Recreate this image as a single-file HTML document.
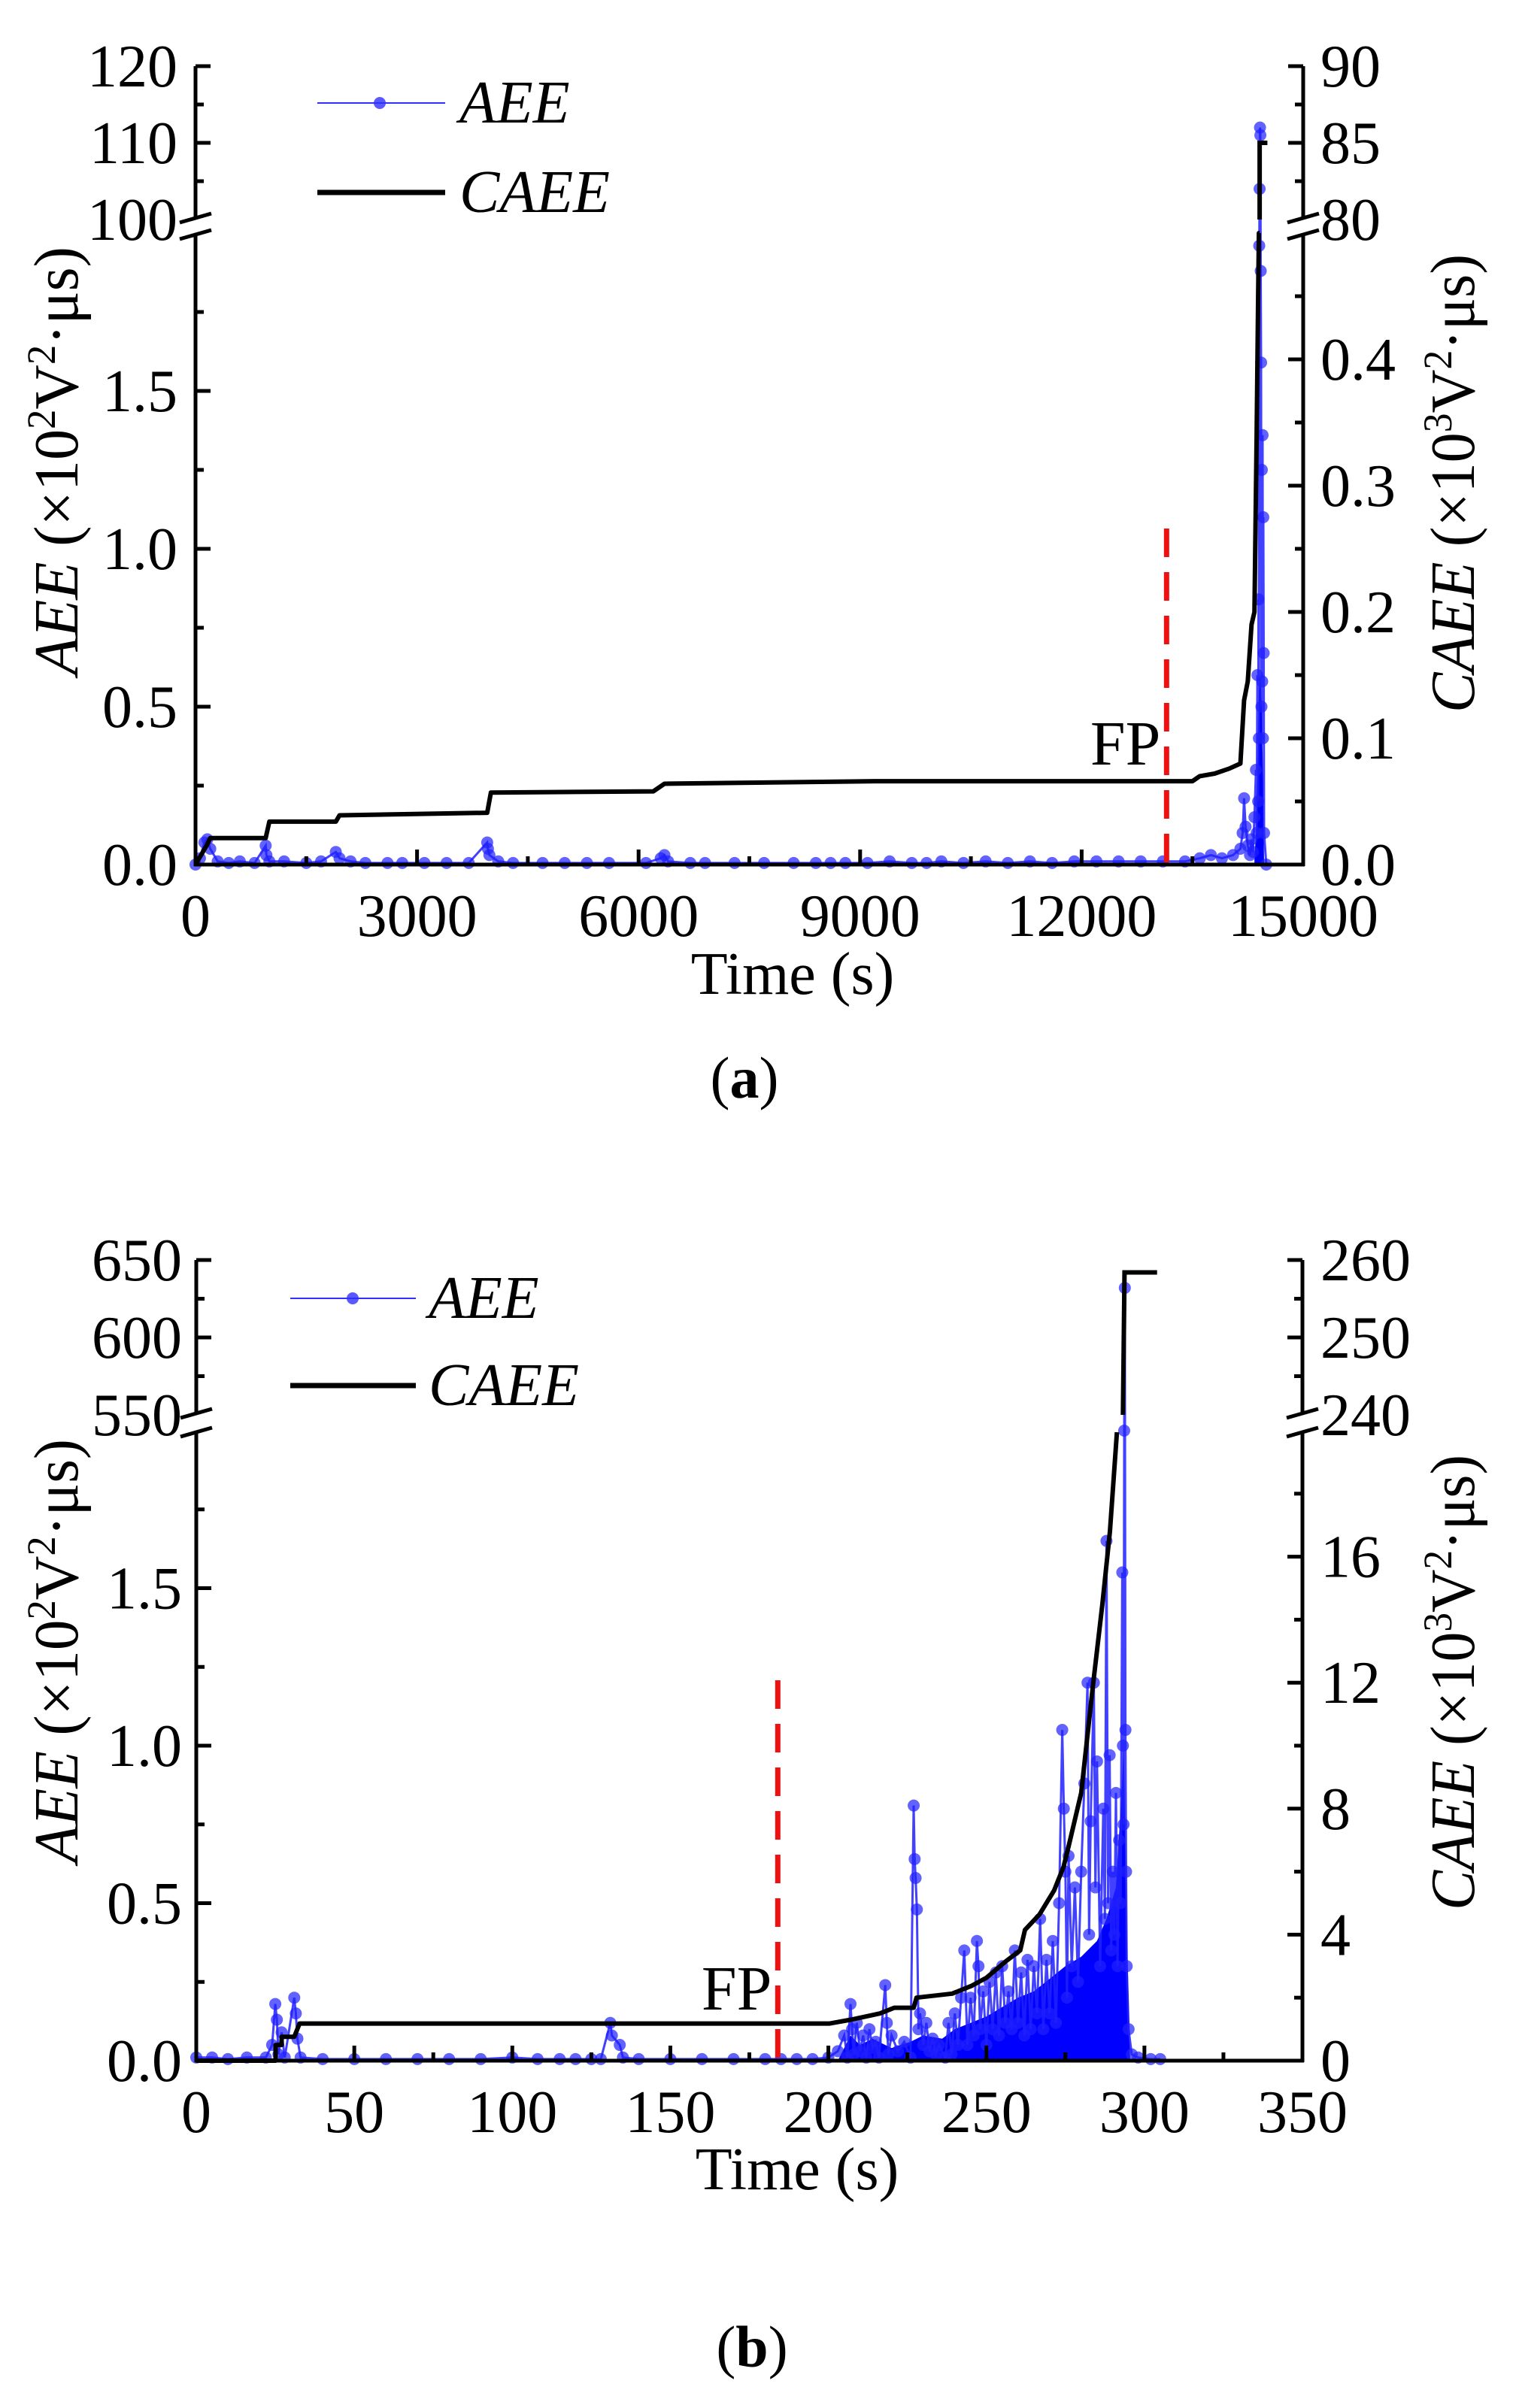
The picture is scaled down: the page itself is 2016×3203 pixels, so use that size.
<!DOCTYPE html>
<html><head><meta charset="utf-8"><style>
html,body{margin:0;padding:0;background:#fff}
svg{display:block}
text{font-family:"Liberation Serif",serif;fill:#000}
</style></head><body>
<svg id="fig" xmlns="http://www.w3.org/2000/svg" width="2016" height="3203" viewBox="0 0 2016 3203">
<rect width="2016" height="3203" fill="#fff"/>
<g id="chartA"></g>
<g id="chartB"></g>
<text x="990" y="1460" font-size="78" text-anchor="middle">(<tspan font-weight="bold">a</tspan>)</text>
<text x="1000" y="3148" font-size="78" text-anchor="middle">(<tspan font-weight="bold">b</tspan>)</text>
</svg>
<script>
// ---------- Chart (a) data ----------
const aTimes = [0,60,120,160,200,300,450,600,800,950,960,1000,1200,1500,1700,1900,1950,2100,2300,2600,2800,3100,3400,3700,3950,3960,3980,4100,4300,4700,5000,5300,5600,6100,6300,6350,6400,6700,6900,7300,7700,8100,8400,8600,8800,9100,9400,9700,9900,10100,10400,10700,11000,11300,11600,11900,12200,12500,12800,13100,13400,13600,13750,13900,14050,14150,14180,14200,14220,14250,14280,14300,14320,14340,14360,14370,14380,14390,14395,14400,14405,14410,14415,14420,14425,14430,14435,14440,14445,14450,14455,14460,14465,14470,14500];
const aAEE = [0,0.02,0.07,0.08,0.05,0.01,0.005,0.01,0.005,0.06,0.03,0.01,0.01,0.005,0.01,0.04,0.02,0.01,0.005,0.005,0.005,0.005,0.005,0.005,0.07,0.05,0.03,0.01,0.005,0.005,0.005,0.005,0.005,0.005,0.02,0.03,0.01,0.005,0.005,0.005,0.005,0.005,0.005,0.005,0.005,0.005,0.01,0.005,0.005,0.01,0.005,0.01,0.005,0.01,0.005,0.01,0.01,0.01,0.01,0.01,0.01,0.02,0.03,0.02,0.03,0.05,0.1,0.21,0.12,0.06,0.03,0.08,0.04,0.15,0.3,0.1,0.6,0.2,0.84,0.4,1.96,104,112,111,1.88,1.59,0.5,1.25,0.58,1.36,0.4,1.1,0.67,0.1,0];
const aDenseT = [14340,14360,14380,14400,14420,14440,14460,14470];
const aDenseV = [0.02,0.1,0.3,0.55,0.6,0.5,0.2,0];
const aCTimes = [0,150,200,950,1000,1900,1950,3950,4000,6200,6350,9200,13500,13600,13800,14000,14150,14200,14250,14300,14340,14370,14390,14400,14410];
const aCAEE = [0,0.015,0.021,0.021,0.034,0.034,0.039,0.041,0.057,0.058,0.064,0.066,0.066,0.07,0.072,0.076,0.08,0.13,0.145,0.19,0.2,0.34,0.45,0.5,0.5];
const aCUpT = [14410,14410,14515];
const aCUpV = [80,85,85];
const aXTicks = [0,3000,6000,9000,12000,15000];
const aXLabels = ["0","3000","6000","9000","12000","15000"];
const aLTicks = [0,0.5,1.0,1.5];
const aLLabels = ["0.0","0.5","1.0","1.5"];
const aLUpTicks = [100,110,120];
const aLUpLabels = ["100","110","120"];
const aRTicks = [0,0.1,0.2,0.3,0.4];
const aRLabels = ["0.0","0.1","0.2","0.3","0.4"];
const aRUpTicks = [80,85,90];
const aRUpLabels = ["80","85","90"];

// ---------- Chart (b) data ----------
const bTimes = [0,5,10,16,22,24,25,25.5,26,27,28,31,31.5,32,33,40,50,60,70,80,90,100,108,115,120,125,128,131,131.5,134,135,140,150,160,170,180,185,190,195,200,203,205,206,207,207.5,208,209,210,211,212,213,214,215,216,218,218.5,219,220,222,224,226,227,227.3,227.6,228,228.5,229,230,231,232,233,234,235,237,238,239,240,241,242,243,244,245,246,247,247.5,248,249,250,251,252,253,254,255,256,257,258,259,260,261,262,263,264,265,266,267,268,269,270,271,272,273,274,274.5,275,275.5,276,277,278,279,280,281,282,282.5,283,284,284.5,285,286,287,287.5,288,288.5,289,289.5,290,290.5,291,291.5,292,292.5,293,293.2,293.4,293.6,293.8,294,294.2,294.4,295,296,298,302,305];
const bAEE = [0.01,0.01,0.005,0.01,0.01,0.05,0.18,0.13,0.02,0.09,0.01,0.2,0.15,0.07,0.01,0.005,0.005,0.005,0.005,0.005,0.005,0.01,0.005,0.005,0.005,0.005,0.005,0.12,0.08,0.05,0.01,0.005,0.005,0.005,0.005,0.005,0.005,0.005,0.005,0.01,0.03,0.08,0.01,0.18,0.1,0.02,0.12,0.03,0.08,0.01,0.1,0.04,0.06,0.01,0.24,0.12,0.02,0.08,0.03,0.06,0.01,0.81,0.64,0.58,0.48,0.1,0.15,0.05,0.12,0.03,0.07,0.02,0.05,0.01,0.12,0.02,0.15,0.05,0.2,0.35,0.05,0.2,0.08,0.38,0.3,0.1,0.22,0.05,0.25,0.1,0.28,0.08,0.3,0.12,0.22,0.1,0.35,0.12,0.28,0.08,0.32,0.1,0.3,0.15,0.45,0.1,0.32,0.15,0.38,0.12,0.5,1.05,0.8,0.6,0.2,0.65,0.3,0.55,0.25,0.6,0.88,1.2,0.4,0.76,1.2,0.55,0.95,0.3,0.8,0.45,1.65,0.5,0.97,0.35,0.6,0.4,0.85,0.3,0.7,0.5,1.55,1.0,0.75,2.0,632,1.05,0.6,0.3,0.1,0.02,0.01,0.005,0.005];
const bDenseT = [203,207,210,214,220,226,230,236,240,245,250,255,260,265,270,275,280,285,288,291,292.5,293.5,294.5,295.5];
const bDenseV = [0,0.08,0.05,0.07,0.04,0.06,0.08,0.07,0.1,0.12,0.14,0.17,0.2,0.22,0.26,0.3,0.33,0.38,0.45,0.55,0.8,1.0,0.4,0];
const bCTimes = [0,25.1,25.1,27,27,31,32.7,200.4,207.1,216.3,220.9,227,227.9,239.2,245.4,250,256,260.7,262.2,266.8,271.4,274.4,276,280,283.6,286.7,289.1,291.3];
const bCAEE = [0,0,0.5,0.5,0.76,0.76,1.18,1.18,1.3,1.5,1.68,1.68,2.0,2.13,2.38,2.63,3.14,3.5,4.15,4.64,5.4,6.15,6.8,8.5,11.8,14.5,16.8,19.95];
const bCUpT = [293.2,293.7,304];
const bCUpV = [240,258.4,258.4];
const bXTicks = [0,50,100,150,200,250,300,350];
const bXLabels = ["0","50","100","150","200","250","300","350"];
const bLTicks = [0,0.5,1.0,1.5];
const bLLabels = ["0.0","0.5","1.0","1.5"];
const bLUpTicks = [550,600,650];
const bLUpLabels = ["550","600","650"];
const bRTicks = [0,4,8,12,16];
const bRLabels = ["0","4","8","12","16"];
const bRUpTicks = [240,250,260];
const bRUpLabels = ["240","250","260"];

const NS = "http://www.w3.org/2000/svg";
function mk(parent, tag, attrs){
  const e = document.createElementNS(NS, tag);
  for (const k in attrs) e.setAttribute(k, attrs[k]);
  parent.appendChild(e);
  return e;
}

function drawChart(g, c, d){
  const xs = t => c.x0 + (t - c.xMin)/(c.xMax - c.xMin)*(c.x1 - c.x0);
  const yL = v => v <= c.lMax ? c.y0 - v/c.lMax*(c.y0 - c.yLTop)
                              : c.yUpBot - (v - c.luMin)/(c.luMax - c.luMin)*(c.yUpBot - c.yUpTop);
  const yRlo = v => c.y0 - v/c.rMax*(c.y0 - c.yLTop);
  const yRup = v => c.yUpBot - (v - c.ruMin)/(c.ruMax - c.ruMin)*(c.yUpBot - c.yUpTop);

  // dense AEE mass
  let dp = xs(d.dt[0]).toFixed(1)+","+c.y0+" "+d.dt.map((t,i)=>xs(t).toFixed(1)+","+yL(d.dv[i]).toFixed(1)).join(" ")+" "+xs(d.dt[d.dt.length-1]).toFixed(1)+","+c.y0;
  const dense = mk(g,"polygon",{points:dp,fill:"#0000ff"});
  
  

  // AEE line + points
  let pts = d.t.map((t,i)=> xs(t).toFixed(1)+","+yL(d.v[i]).toFixed(1)).join(" ");
  const aeeLine = mk(g,"polyline",{points:pts,fill:"none",stroke:"#2020ff","stroke-width":3,"stroke-opacity":0.85});
  
  
  d.t.forEach((t,i)=>{
    const p = mk(g,"circle",{cx:xs(t),cy:yL(d.v[i]),r:8,fill:"#2020ff","fill-opacity":0.7});
    
    
  });

  // CAEE lower + upper
  const cl = mk(g,"polyline",{points:d.ct.map((t,i)=>xs(t).toFixed(1)+","+yRlo(d.cv[i]).toFixed(1)).join(" "),fill:"none",stroke:"#000","stroke-width":6,"stroke-linejoin":"round"});
  
  
  const cu = mk(g,"polyline",{points:d.cut.map((t,i)=>xs(t).toFixed(1)+","+yRup(d.cuv[i]).toFixed(1)).join(" "),fill:"none",stroke:"#000","stroke-width":6});
  
  

  // FP marker
  const fp = mk(g,"line",{x1:xs(c.fpT),x2:xs(c.fpT),y1:c.fpTop,y2:c.y0,stroke:"#ee1111","stroke-width":7,"stroke-dasharray":"38,20"});
  
  
  const fpt = mk(g,"text",{x:xs(c.fpT)-8,y:c.fpTextY,"font-size":84,"text-anchor":"end"});
  fpt.textContent = "FP";
  
  

  // axes
  const ax = mk(g,"g",{stroke:"#000","stroke-width":5,fill:"none"});
  
  
  mk(ax,"line",{x1:c.x0-2,x2:c.x1+2,y1:c.y0,y2:c.y0});
  [c.x0,c.x1].forEach(x=>{
    mk(ax,"line",{x1:x,x2:x,y1:c.y0+2,y2:c.yLTop+3});
    mk(ax,"line",{x1:x,x2:x,y1:c.yUpBot-3,y2:c.yUpTop});
    mk(ax,"line",{x1:x-21,x2:x+21,y1:c.yUpBot+4,y2:c.yUpBot-8});
    mk(ax,"line",{x1:x-21,x2:x+21,y1:c.yLTop+8,y2:c.yLTop-4});
  });
  mk(ax,"line",{x1:c.x0,x2:c.x0+20,y1:c.yUpTop,y2:c.yUpTop});
  mk(ax,"line",{x1:c.x1,x2:c.x1-20,y1:c.yUpTop,y2:c.yUpTop});

  c.xTicks.forEach((t,i)=>{
    mk(ax,"line",{x1:xs(t),x2:xs(t),y1:c.y0,y2:c.y0-20});
    if(i<c.xTicks.length-1){ const m=(t+c.xTicks[i+1])/2; mk(ax,"line",{x1:xs(m),x2:xs(m),y1:c.y0,y2:c.y0-11}); }
    const tx = mk(g,"text",{x:xs(t),y:c.xLabY,"font-size":80,"text-anchor":"middle"});
    tx.textContent = c.xLabels[i];
    
    
  });
  const lStep = c.lTicks[1]-c.lTicks[0];
  for(let k=0; k*lStep/2 < c.lMax-1e-9; k++){
    const v = k*lStep/2;
    mk(ax,"line",{x1:c.x0,x2:c.x0+(k%2===0?20:11),y1:yL(v),y2:yL(v)});
  }
  c.lTicks.forEach((v,i)=>{
    const tx = mk(g,"text",{x:c.lLabX,y:yL(v)+27,"font-size":80,"text-anchor":"end"});
    tx.textContent = c.lLabels[i];
    
    
  });
  const luStep = c.luTicks[1]-c.luTicks[0];
  for(let k=1; c.luMin+k*luStep/2 < c.luMax-1e-9; k++){
    const v = c.luMin+k*luStep/2;
    mk(ax,"line",{x1:c.x0,x2:c.x0+(k%2===0?20:11),y1:yL(v),y2:yL(v)});
  }
  c.luTicks.forEach((v,i)=>{
    const tx = mk(g,"text",{x:c.lLabX,y:yL(v)+27,"font-size":80,"text-anchor":"end"});
    tx.textContent = c.luLabels[i];
    
    
  });
  const rStep = c.rTicks[1]-c.rTicks[0];
  for(let k=0; k*rStep/2 < c.rMax-1e-9; k++){
    const v = k*rStep/2;
    mk(ax,"line",{x1:c.x1,x2:c.x1-(k%2===0?20:11),y1:yRlo(v),y2:yRlo(v)});
  }
  c.rTicks.forEach((v,i)=>{
    const tx = mk(g,"text",{x:c.rLabX,y:yRlo(v)+27,"font-size":80});
    tx.textContent = c.rLabels[i];
    
    
  });
  const ruStep = c.ruTicks[1]-c.ruTicks[0];
  for(let k=1; c.ruMin+k*ruStep/2 < c.ruMax-1e-9; k++){
    const v = c.ruMin+k*ruStep/2;
    mk(ax,"line",{x1:c.x1,x2:c.x1-(k%2===0?20:11),y1:yRup(v),y2:yRup(v)});
  }
  c.ruTicks.forEach((v,i)=>{
    const tx = mk(g,"text",{x:c.rLabX,y:yRup(v)+27,"font-size":80});
    tx.textContent = c.ruLabels[i];
    
    
  });

  const xt = mk(g,"text",{x:c.xTitleX,y:c.xTitleY,"font-size":80,"text-anchor":"middle"});
  xt.textContent = "Time (s)";
  
  

  function yTitle(cx, cy, exp, name, len){
    const t = mk(g,"text",{transform:`translate(${cx},${cy}) rotate(-90)`,"font-size":84,"text-anchor":"middle",textLength:len,lengthAdjust:"spacingAndGlyphs"});
    t.innerHTML = `<tspan font-style="italic">${name}</tspan> (×10<tspan dy="-30" font-size="54">${exp}</tspan><tspan dy="30">V</tspan><tspan dy="-30" font-size="54">2</tspan><tspan dy="30">·μs)</tspan>`;
    return t;
  }
  const lt = yTitle(c.lTitleX, c.lTitleY, "2", "AEE", c.lTitleLen);
  
  
  const rt = yTitle(c.rTitleX, c.rTitleY, "3", "CAEE", c.rTitleLen);
  
  

  const lg = mk(g,"g",{});
  
  
  const l1 = mk(lg,"line",{x1:c.legX0,x2:c.legX1,y1:c.legY1,y2:c.legY1,stroke:"#3030ff","stroke-width":2});
  
  
  mk(lg,"circle",{cx:c.legDot,cy:c.legY1,r:8,fill:"#3030ff","fill-opacity":0.8});
  const lt1 = mk(lg,"text",{x:c.legTX,y:c.legY1+26,"font-size":80,"font-style":"italic"});
  lt1.textContent = "AEE";
  
  
  const l2 = mk(lg,"line",{x1:c.legX0,x2:c.legX1,y1:c.legY2,y2:c.legY2,stroke:"#000","stroke-width":7});
  
  
  const lt2 = mk(lg,"text",{x:c.legTX,y:c.legY2+26,"font-size":80,"font-style":"italic"});
  lt2.textContent = "CAEE";
  
  
}

drawChart(document.getElementById("chartA"), {
  x0:260, x1:1733, xMin:0, xMax:15000, y0:1150, yLTop:310, yUpBot:292, yUpTop:88,
  lMax:2.0, luMin:100, luMax:120, rMax:0.5, ruMin:80, ruMax:90,
  xTicks:aXTicks, xLabels:aXLabels, lTicks:aLTicks, lLabels:aLLabels, luTicks:aLUpTicks, luLabels:aLUpLabels,
  rTicks:aRTicks, rLabels:aRLabels, ruTicks:aRUpTicks, ruLabels:aRUpLabels,
  lLabX:236, rLabX:1756, xLabY:1245, xTitleX:1054, xTitleY:1322,
  lTitleX:103, lTitleY:613, lTitleLen:570, rTitleX:1960, rTitleY:643, rTitleLen:610,
  fpT:13150, fpTop:703, fpTextY:1017,
  legX0:422, legX1:592, legDot:505, legY1:137, legY2:256, legTX:611
}, {t:aTimes, v:aAEE, dt:aDenseT, dv:aDenseV, ct:aCTimes, cv:aCAEE, cut:aCUpT, cuv:aCUpV});

drawChart(document.getElementById("chartB"), {
  x0:261, x1:1732, xMin:0, xMax:350, y0:2741, yLTop:1903, yUpBot:1882, yUpTop:1676,
  lMax:2.0, luMin:550, luMax:650, rMax:20, ruMin:240, ruMax:260,
  xTicks:bXTicks, xLabels:bXLabels, lTicks:bLTicks, lLabels:bLLabels, luTicks:bLUpTicks, luLabels:bLUpLabels,
  rTicks:bRTicks, rLabels:bRLabels, ruTicks:bRUpTicks, ruLabels:bRUpLabels,
  lLabX:242, rLabX:1756, xLabY:2836, xTitleX:1060, xTitleY:2912,
  lTitleX:103, lTitleY:2196, lTitleLen:564, rTitleX:1960, rTitleY:2238, rTitleLen:606,
  fpT:184, fpTop:2235, fpTextY:2673,
  legX0:386, legX1:553, legDot:469, legY1:1727, legY2:1843, legTX:570
}, {t:bTimes, v:bAEE, dt:bDenseT, dv:bDenseV, ct:bCTimes, cv:bCAEE, cut:bCUpT, cuv:bCUpV});
</script>
</body></html>
